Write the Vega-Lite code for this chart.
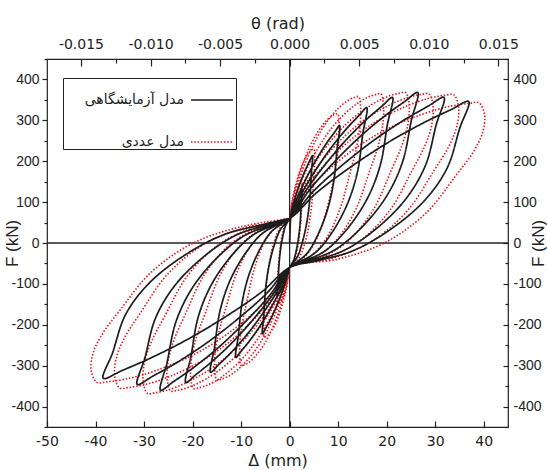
{
"$schema": "https://vega.github.io/schema/vega-lite/v6.json",
"width": 461, "height": 368,
"autosize": {"type": "none"},
"padding": {"left": 47, "top": 59, "right": 39, "bottom": 43},
"config": {
 "view": {"stroke": "#222", "strokeWidth": 1.2},
 "font": "Liberation Sans",
 "axis": {"labelFont": "Liberation Sans", "labelFontSize": 14, "labelColor": "#222", "tickColor": "#222", "tickWidth": 1.2, "domain": false, "grid": false, "titleFont": "Liberation Sans", "titleFontSize": 17, "titleFontWeight": "normal", "titleColor": "#222", "labelFlush": false, "labelOverlap": false}
},
"datasets": {
"blk": [
{"s":"a","x":0,"y":0},
{"s":"a","x":0.375,"y":75.4},{"s":"a","x":0.875,"y":91.5},{"s":"a","x":1.375,"y":105.5},{"s":"a","x":1.875,"y":117.4},{"s":"a","x":2.25,"y":125.1},{"s":"a","x":2.5,"y":130},
{"s":"a","x":2.375,"y":99.6},{"s":"a","x":2.2,"y":54},{"s":"a","x":1.875,"y":16},{"s":"a","x":1.375,"y":-18.2},{"s":"a","x":0.875,"y":-41},{"s":"a","x":0.375,"y":-52.4},{"s":"a","x":0,"y":-60},
{"s":"a","x":-0.375,"y":-75.4},{"s":"a","x":-0.875,"y":-91.5},{"s":"a","x":-1.375,"y":-105.5},{"s":"a","x":-1.875,"y":-117.4},{"s":"a","x":-2.25,"y":-125.1},{"s":"a","x":-2.5,"y":-130},
{"s":"a","x":-2.375,"y":-99.6},{"s":"a","x":-2.2,"y":-54},{"s":"a","x":-1.875,"y":-16},{"s":"a","x":-1.375,"y":18.2},{"s":"a","x":-0.875,"y":41},{"s":"a","x":-0.375,"y":52.4},{"s":"a","x":0,"y":60},
{"s":"a","x":0.7,"y":93.9},{"s":"a","x":1.65,"y":129.3},{"s":"a","x":2.59,"y":160.1},{"s":"a","x":3.53,"y":186.3},{"s":"a","x":4.23,"y":203.2},{"s":"a","x":4.7,"y":214},
{"s":"a","x":4.47,"y":170.2},{"s":"a","x":4.14,"y":104.4},{"s":"a","x":3.53,"y":49.6},{"s":"a","x":2.59,"y":0.3},{"s":"a","x":1.65,"y":-32.6},{"s":"a","x":0.7,"y":-49},{"s":"a","x":0,"y":-60},
{"s":"a","x":-0.84,"y":-95.6},{"s":"a","x":-1.96,"y":-132.9},{"s":"a","x":-3.08,"y":-165.3},{"s":"a","x":-4.2,"y":-192.8},{"s":"a","x":-5.04,"y":-210.7},{"s":"a","x":-5.6,"y":-222},
{"s":"a","x":-5.32,"y":-176.9},{"s":"a","x":-4.93,"y":-109.2},{"s":"a","x":-4.2,"y":-52.8},{"s":"a","x":-3.08,"y":-2},{"s":"a","x":-1.96,"y":31.8},{"s":"a","x":-0.84,"y":48.7},{"s":"a","x":0,"y":60},
{"s":"a","x":1.55,"y":109.9},{"s":"a","x":3.6,"y":162.2},{"s":"a","x":5.67,"y":207.6},{"s":"a","x":7.73,"y":246.1},{"s":"a","x":9.27,"y":271.1},{"s":"a","x":10.3,"y":287},
{"s":"a","x":9.79,"y":231.5},{"s":"a","x":9.06,"y":148.2},{"s":"a","x":7.73,"y":78.8},{"s":"a","x":5.67,"y":16.3},{"s":"a","x":3.6,"y":-25.3},{"s":"a","x":1.55,"y":-46.1},{"s":"a","x":0,"y":-60},
{"s":"a","x":-1.67,"y":-108.4},{"s":"a","x":-3.89,"y":-159},{"s":"a","x":-6.11,"y":-203},{"s":"a","x":-8.33,"y":-240.4},{"s":"a","x":-9.99,"y":-264.6},{"s":"a","x":-11.1,"y":-280},
{"s":"a","x":-10.55,"y":-225.6},{"s":"a","x":-9.77,"y":-144},{"s":"a","x":-8.33,"y":-76},{"s":"a","x":-6.11,"y":-14.8},{"s":"a","x":-3.89,"y":26},{"s":"a","x":-1.67,"y":46.4},{"s":"a","x":0,"y":60},
{"s":"a","x":2.39,"y":119.6},{"s":"a","x":5.57,"y":182},{"s":"a","x":8.75,"y":236.2},{"s":"a","x":11.93,"y":282.2},{"s":"a","x":14.31,"y":312},{"s":"a","x":15.9,"y":331},
{"s":"a","x":15.1,"y":268.4},{"s":"a","x":13.99,"y":174.6},{"s":"a","x":11.93,"y":96.4},{"s":"a","x":8.75,"y":26},{"s":"a","x":5.57,"y":-20.9},{"s":"a","x":2.39,"y":-44.4},{"s":"a","x":0,"y":-60},
{"s":"a","x":-2.45,"y":-116.3},{"s":"a","x":-5.71,"y":-175.2},{"s":"a","x":-8.97,"y":-226.4},{"s":"a","x":-12.23,"y":-269.9},{"s":"a","x":-14.67,"y":-298.1},{"s":"a","x":-16.3,"y":-316},
{"s":"a","x":-15.49,"y":-255.8},{"s":"a","x":-14.34,"y":-165.6},{"s":"a","x":-12.23,"y":-90.4},{"s":"a","x":-8.97,"y":-22.7},{"s":"a","x":-5.71,"y":22.4},{"s":"a","x":-2.45,"y":45},{"s":"a","x":0,"y":60},
{"s":"a","x":3.18,"y":125.1},{"s":"a","x":7.42,"y":193.2},{"s":"a","x":11.66,"y":252.4},{"s":"a","x":15.9,"y":302.7},{"s":"a","x":19.08,"y":335.3},{"s":"a","x":21.2,"y":356},
{"s":"a","x":20.14,"y":289.4},{"s":"a","x":18.66,"y":189.6},{"s":"a","x":15.9,"y":106.4},{"s":"a","x":11.66,"y":31.5},{"s":"a","x":7.42,"y":-18.4},{"s":"a","x":3.18,"y":-43.4},{"s":"a","x":0,"y":-60},
{"s":"a","x":-3.21,"y":-121.8},{"s":"a","x":-7.49,"y":-186.5},{"s":"a","x":-11.77,"y":-242.7},{"s":"a","x":-16.05,"y":-290.4},{"s":"a","x":-19.26,"y":-321.3},{"s":"a","x":-21.4,"y":-341},
{"s":"a","x":-20.33,"y":-276.8},{"s":"a","x":-18.83,"y":-180.6},{"s":"a","x":-16.05,"y":-100.4},{"s":"a","x":-11.77,"y":-28.2},{"s":"a","x":-7.49,"y":19.9},{"s":"a","x":-3.21,"y":44},{"s":"a","x":0,"y":60},
{"s":"a","x":3.96,"y":127.8},{"s":"a","x":9.24,"y":198.6},{"s":"a","x":14.52,"y":260.2},{"s":"a","x":19.8,"y":312.6},{"s":"a","x":23.76,"y":346.4},{"s":"a","x":26.4,"y":368},
{"s":"a","x":25.08,"y":299.5},{"s":"a","x":23.23,"y":196.8},{"s":"a","x":19.8,"y":111.2},{"s":"a","x":14.52,"y":34.2},{"s":"a","x":9.24,"y":-17.2},{"s":"a","x":3.96,"y":-42.9},{"s":"a","x":0,"y":-60},
{"s":"a","x":-3.99,"y":-126},{"s":"a","x":-9.31,"y":-195},{"s":"a","x":-14.63,"y":-255},{"s":"a","x":-19.95,"y":-306},{"s":"a","x":-23.94,"y":-339},{"s":"a","x":-26.6,"y":-360},
{"s":"a","x":-25.27,"y":-292.8},{"s":"a","x":-23.41,"y":-192},{"s":"a","x":-19.95,"y":-108},{"s":"a","x":-14.63,"y":-32.4},{"s":"a","x":-9.31,"y":18},{"s":"a","x":-3.99,"y":43.2},{"s":"a","x":0,"y":60},
{"s":"a","x":4.77,"y":125.1},{"s":"a","x":11.13,"y":193.2},{"s":"a","x":17.49,"y":252.4},{"s":"a","x":23.85,"y":302.7},{"s":"a","x":28.62,"y":335.3},{"s":"a","x":31.8,"y":356},
{"s":"a","x":30.21,"y":289.4},{"s":"a","x":27.98,"y":189.6},{"s":"a","x":23.85,"y":106.4},{"s":"a","x":17.49,"y":31.5},{"s":"a","x":11.13,"y":-18.4},{"s":"a","x":4.77,"y":-43.4},{"s":"a","x":0,"y":-60},
{"s":"a","x":-4.71,"y":-122.9},{"s":"a","x":-10.99,"y":-188.7},{"s":"a","x":-17.27,"y":-245.9},{"s":"a","x":-23.55,"y":-294.5},{"s":"a","x":-28.26,"y":-326},{"s":"a","x":-31.4,"y":-346},
{"s":"a","x":-29.83,"y":-281},{"s":"a","x":-27.63,"y":-183.6},{"s":"a","x":-23.55,"y":-102.4},{"s":"a","x":-17.27,"y":-29.3},{"s":"a","x":-10.99,"y":19.4},{"s":"a","x":-4.71,"y":43.8},{"s":"a","x":0,"y":60},
{"s":"a","x":5.54,"y":122.9},{"s":"a","x":12.92,"y":188.7},{"s":"a","x":20.3,"y":245.9},{"s":"a","x":27.68,"y":294.5},{"s":"a","x":33.21,"y":326},{"s":"a","x":36.9,"y":346},
{"s":"a","x":35.06,"y":281},{"s":"a","x":32.47,"y":183.6},{"s":"a","x":27.68,"y":102.4},{"s":"a","x":20.3,"y":29.3},{"s":"a","x":12.92,"y":-19.4},{"s":"a","x":5.54,"y":-43.8},{"s":"a","x":0,"y":-60},
{"s":"a","x":-5.76,"y":-119.6},{"s":"a","x":-13.44,"y":-182},{"s":"a","x":-21.12,"y":-236.2},{"s":"a","x":-28.8,"y":-282.2},{"s":"a","x":-34.56,"y":-312},{"s":"a","x":-38.4,"y":-331},
{"s":"a","x":-36.48,"y":-268.4},{"s":"a","x":-33.79,"y":-174.6},{"s":"a","x":-28.8,"y":-96.4},{"s":"a","x":-21.12,"y":-26},{"s":"a","x":-13.44,"y":20.9},{"s":"a","x":-5.76,"y":44.4},{"s":"a","x":0,"y":60}
],
"red": [
{"s":"b","x":0,"y":0},
{"s":"b","x":0.25,"y":82.5},{"s":"b","x":0.75,"y":109.5},{"s":"b","x":1.25,"y":128.4},{"s":"b","x":1.75,"y":141},{"s":"b","x":2.13,"y":147.3},{"s":"b","x":2.38,"y":149.6},{"s":"b","x":2.5,"y":150},
{"s":"b","x":2.58,"y":135.3},{"s":"b","x":2.55,"y":112.2},{"s":"b","x":2.43,"y":78.6},{"s":"b","x":2.2,"y":40.8},{"s":"b","x":1.8,"y":-1.2},{"s":"b","x":1.25,"y":-32.7},{"s":"b","x":0.63,"y":-51.6},{"s":"b","x":0,"y":-60},
{"s":"b","x":-0.25,"y":-82.5},{"s":"b","x":-0.75,"y":-109.5},{"s":"b","x":-1.25,"y":-128.4},{"s":"b","x":-1.75,"y":-141},{"s":"b","x":-2.13,"y":-147.3},{"s":"b","x":-2.38,"y":-149.6},{"s":"b","x":-2.5,"y":-150},
{"s":"b","x":-2.58,"y":-135.3},{"s":"b","x":-2.55,"y":-112.2},{"s":"b","x":-2.43,"y":-78.6},{"s":"b","x":-2.2,"y":-40.8},{"s":"b","x":-1.8,"y":1.2},{"s":"b","x":-1.25,"y":32.7},{"s":"b","x":-0.63,"y":51.6},{"s":"b","x":0,"y":60},
{"s":"b","x":0.5,"y":102.5},{"s":"b","x":1.5,"y":153.5},{"s":"b","x":2.5,"y":189.2},{"s":"b","x":3.5,"y":213},{"s":"b","x":4.25,"y":224.9},{"s":"b","x":4.75,"y":229.2},{"s":"b","x":5,"y":230},
{"s":"b","x":5.15,"y":209.7},{"s":"b","x":5.1,"y":177.8},{"s":"b","x":4.85,"y":131.4},{"s":"b","x":4.4,"y":79.2},{"s":"b","x":3.6,"y":21.2},{"s":"b","x":2.5,"y":-22.3},{"s":"b","x":1.25,"y":-48.4},{"s":"b","x":0,"y":-60},
{"s":"b","x":-0.52,"y":-102.5},{"s":"b","x":-1.56,"y":-153.5},{"s":"b","x":-2.6,"y":-189.2},{"s":"b","x":-3.64,"y":-213},{"s":"b","x":-4.42,"y":-224.9},{"s":"b","x":-4.94,"y":-229.2},{"s":"b","x":-5.2,"y":-230},
{"s":"b","x":-5.36,"y":-209.7},{"s":"b","x":-5.3,"y":-177.8},{"s":"b","x":-5.04,"y":-131.4},{"s":"b","x":-4.58,"y":-79.2},{"s":"b","x":-3.74,"y":-21.2},{"s":"b","x":-2.6,"y":22.3},{"s":"b","x":-1.3,"y":48.4},{"s":"b","x":0,"y":60},
{"s":"b","x":0.99,"y":124},{"s":"b","x":2.97,"y":200.8},{"s":"b","x":4.95,"y":254.6},{"s":"b","x":6.93,"y":290.4},{"s":"b","x":8.42,"y":308.3},{"s":"b","x":9.41,"y":314.7},{"s":"b","x":9.9,"y":316},
{"s":"b","x":10.2,"y":289.7},{"s":"b","x":10.1,"y":248.3},{"s":"b","x":9.6,"y":192},{"s":"b","x":8.71,"y":135},{"s":"b","x":7.13,"y":60},{"s":"b","x":4.95,"y":-4},{"s":"b","x":2.48,"y":-41},{"s":"b","x":0,"y":-60},
{"s":"b","x":-1,"y":-120},{"s":"b","x":-3,"y":-192},{"s":"b","x":-5,"y":-242.4},{"s":"b","x":-7,"y":-276},{"s":"b","x":-8.5,"y":-292.8},{"s":"b","x":-9.5,"y":-298.8},{"s":"b","x":-10,"y":-300},
{"s":"b","x":-10.3,"y":-274.8},{"s":"b","x":-10.2,"y":-235.2},{"s":"b","x":-9.7,"y":-192},{"s":"b","x":-8.8,"y":-142},{"s":"b","x":-7.2,"y":-60},{"s":"b","x":-5,"y":6},{"s":"b","x":-2.5,"y":42},{"s":"b","x":0,"y":60},
{"s":"b","x":1.42,"y":134.5},{"s":"b","x":4.26,"y":223.9},{"s":"b","x":7.1,"y":286.5},{"s":"b","x":9.94,"y":328.2},{"s":"b","x":12.07,"y":349.1},{"s":"b","x":13.49,"y":356.5},{"s":"b","x":14.2,"y":358},
{"s":"b","x":14.63,"y":328.7},{"s":"b","x":14.48,"y":282.8},{"s":"b","x":13.77,"y":232},{"s":"b","x":12.5,"y":174},{"s":"b","x":10.22,"y":78},{"s":"b","x":7.1,"y":3},{"s":"b","x":3.55,"y":-39},{"s":"b","x":0,"y":-60},
{"s":"b","x":-1.5,"y":-128.8},{"s":"b","x":-4.5,"y":-211.3},{"s":"b","x":-7.5,"y":-269},{"s":"b","x":-10.5,"y":-307.5},{"s":"b","x":-12.75,"y":-326.8},{"s":"b","x":-14.25,"y":-333.6},{"s":"b","x":-15,"y":-335},
{"s":"b","x":-15.45,"y":-307.4},{"s":"b","x":-15.3,"y":-263.9},{"s":"b","x":-14.55,"y":-216},{"s":"b","x":-13.2,"y":-161},{"s":"b","x":-10.8,"y":-70},{"s":"b","x":-7.5,"y":1},{"s":"b","x":-3.75,"y":40},{"s":"b","x":0,"y":60},
{"s":"b","x":1.88,"y":136.3},{"s":"b","x":5.64,"y":227.8},{"s":"b","x":9.4,"y":291.8},{"s":"b","x":13.16,"y":334.5},{"s":"b","x":15.98,"y":355.9},{"s":"b","x":17.86,"y":363.5},{"s":"b","x":18.8,"y":365},
{"s":"b","x":19.36,"y":335.3},{"s":"b","x":19.18,"y":288.5},{"s":"b","x":18.24,"y":237},{"s":"b","x":16.54,"y":178},{"s":"b","x":13.54,"y":80},{"s":"b","x":9.4,"y":4},{"s":"b","x":4.7,"y":-39},{"s":"b","x":0,"y":-60},
{"s":"b","x":-1.98,"y":-134},{"s":"b","x":-5.94,"y":-222.8},{"s":"b","x":-9.9,"y":-285},{"s":"b","x":-13.86,"y":-326.4},{"s":"b","x":-16.83,"y":-347.1},{"s":"b","x":-18.81,"y":-354.5},{"s":"b","x":-19.8,"y":-356},
{"s":"b","x":-20.39,"y":-326.9},{"s":"b","x":-20.2,"y":-281.1},{"s":"b","x":-19.21,"y":-231},{"s":"b","x":-17.42,"y":-173},{"s":"b","x":-14.26,"y":-77},{"s":"b","x":-9.9,"y":-2},{"s":"b","x":-4.95,"y":39},{"s":"b","x":0,"y":60},
{"s":"b","x":2.39,"y":137},{"s":"b","x":7.17,"y":229.4},{"s":"b","x":11.95,"y":294.1},{"s":"b","x":16.73,"y":337.2},{"s":"b","x":20.32,"y":358.8},{"s":"b","x":22.71,"y":366.5},{"s":"b","x":23.9,"y":368},
{"s":"b","x":24.62,"y":338},{"s":"b","x":24.38,"y":291},{"s":"b","x":23.18,"y":240},{"s":"b","x":21.03,"y":180},{"s":"b","x":17.21,"y":81},{"s":"b","x":11.95,"y":4},{"s":"b","x":5.98,"y":-39},{"s":"b","x":0,"y":-60},
{"s":"b","x":-2.45,"y":-135.5},{"s":"b","x":-7.35,"y":-226.1},{"s":"b","x":-12.25,"y":-289.5},{"s":"b","x":-17.15,"y":-331.8},{"s":"b","x":-20.83,"y":-352.9},{"s":"b","x":-23.28,"y":-360.5},{"s":"b","x":-24.5,"y":-362},
{"s":"b","x":-25.24,"y":-332.5},{"s":"b","x":-24.99,"y":-286},{"s":"b","x":-23.77,"y":-235},{"s":"b","x":-21.56,"y":-176},{"s":"b","x":-17.64,"y":-79},{"s":"b","x":-12.25,"y":-3},{"s":"b","x":-6.13,"y":39},{"s":"b","x":0,"y":60},
{"s":"b","x":2.87,"y":136.3},{"s":"b","x":8.61,"y":227.8},{"s":"b","x":14.35,"y":291.8},{"s":"b","x":20.09,"y":334.5},{"s":"b","x":24.4,"y":355.9},{"s":"b","x":27.27,"y":363.5},{"s":"b","x":28.7,"y":365},
{"s":"b","x":29.56,"y":335.3},{"s":"b","x":29.27,"y":288.5},{"s":"b","x":27.84,"y":237},{"s":"b","x":25.26,"y":178},{"s":"b","x":20.66,"y":80},{"s":"b","x":14.35,"y":4},{"s":"b","x":7.18,"y":-39},{"s":"b","x":0,"y":-60},
{"s":"b","x":-2.93,"y":-137},{"s":"b","x":-8.79,"y":-229.4},{"s":"b","x":-14.65,"y":-294.1},{"s":"b","x":-20.51,"y":-337.2},{"s":"b","x":-24.91,"y":-358.8},{"s":"b","x":-27.84,"y":-366.5},{"s":"b","x":-29.3,"y":-368},
{"s":"b","x":-30.18,"y":-338},{"s":"b","x":-29.89,"y":-291},{"s":"b","x":-28.42,"y":-240},{"s":"b","x":-25.78,"y":-180},{"s":"b","x":-21.1,"y":-81},{"s":"b","x":-14.65,"y":-4},{"s":"b","x":-7.33,"y":39},{"s":"b","x":0,"y":60},
{"s":"b","x":3.38,"y":135.8},{"s":"b","x":10.14,"y":226.7},{"s":"b","x":16.9,"y":290.3},{"s":"b","x":23.66,"y":332.7},{"s":"b","x":28.73,"y":353.9},{"s":"b","x":32.11,"y":361.5},{"s":"b","x":33.8,"y":363},
{"s":"b","x":34.81,"y":333.4},{"s":"b","x":34.48,"y":286.9},{"s":"b","x":32.79,"y":236},{"s":"b","x":29.74,"y":177},{"s":"b","x":24.34,"y":80},{"s":"b","x":16.9,"y":4},{"s":"b","x":8.45,"y":-39},{"s":"b","x":0,"y":-60},
{"s":"b","x":-3.5,"y":-133.8},{"s":"b","x":-10.5,"y":-222.3},{"s":"b","x":-17.5,"y":-284.2},{"s":"b","x":-24.5,"y":-325.5},{"s":"b","x":-29.75,"y":-346.2},{"s":"b","x":-33.25,"y":-353.5},{"s":"b","x":-35,"y":-355},
{"s":"b","x":-36.05,"y":-326},{"s":"b","x":-35.7,"y":-280.3},{"s":"b","x":-33.95,"y":-230},{"s":"b","x":-30.8,"y":-172},{"s":"b","x":-25.2,"y":-77},{"s":"b","x":-17.5,"y":-2},{"s":"b","x":-8.75,"y":39},{"s":"b","x":0,"y":60},
{"s":"b","x":3.9,"y":130.8},{"s":"b","x":11.7,"y":215.7},{"s":"b","x":19.5,"y":275.1},{"s":"b","x":27.3,"y":314.7},{"s":"b","x":33.15,"y":334.5},{"s":"b","x":37.05,"y":341.6},{"s":"b","x":39,"y":343},
{"s":"b","x":40.17,"y":314.8},{"s":"b","x":39.78,"y":270.5},{"s":"b","x":37.83,"y":222},{"s":"b","x":34.32,"y":166},{"s":"b","x":28.08,"y":73},{"s":"b","x":19.5,"y":0},{"s":"b","x":9.75,"y":-40},{"s":"b","x":0,"y":-60},
{"s":"b","x":-3.97,"y":-130.3},{"s":"b","x":-11.91,"y":-214.6},{"s":"b","x":-19.85,"y":-273.6},{"s":"b","x":-27.79,"y":-312.9},{"s":"b","x":-33.75,"y":-332.6},{"s":"b","x":-37.72,"y":-339.6},{"s":"b","x":-39.7,"y":-341},
{"s":"b","x":-40.89,"y":-312.9},{"s":"b","x":-40.49,"y":-268.8},{"s":"b","x":-38.51,"y":-221},{"s":"b","x":-34.94,"y":-164},{"s":"b","x":-28.58,"y":-72},{"s":"b","x":-19.85,"y":0},{"s":"b","x":-9.93,"y":40},{"s":"b","x":0,"y":60}
]
},
"layer": [
 {
  "data": {"values": [{"t": 0}]},
  "mark": {"type": "rule", "color": "#222", "strokeWidth": 1.2},
  "encoding": {
   "x": {"field": "t", "type": "quantitative",
    "scale": {"domain": [-0.01744, 0.015696], "nice": false, "zero": false},
    "axis": {"orient": "top", "title": "θ (rad)", "titleY": -36, "titleBaseline": "middle", "labelFont": "DejaVu Sans", "labelFontSize": 14, "titleFont": "DejaVu Sans", "titleFontSize": 16,
     "values": [-0.015, -0.0125, -0.01, -0.0075, -0.005, -0.0025, 0, 0.0025, 0.005, 0.0075, 0.01, 0.0125, 0.015],
     "labelExpr": "abs(datum.value*200 - round(datum.value*200)) < 0.01 ? replace(format(datum.value, '.3f'), '\u2212', '-') : ''",
     "tickSize": {"condition": {"test": "abs(datum.value*200 - round(datum.value*200)) > 0.01", "value": -4}, "value": -7},
     "labelPadding": 15}
   }
  }
 },
 {
  "data": {"values": [{"f": 0}]},
  "mark": {"type": "rule", "color": "#222", "strokeWidth": 1.2},
  "encoding": {
   "y": {"field": "f", "type": "quantitative",
    "scale": {"domain": [-450, 450], "nice": false, "zero": false},
    "axis": {"orient": "left", "title": "F (kN)", "titleX": -35, "titleY": 184, "titleAngle": 270, "titleBaseline": "middle", "titleAlign": "center",
     "values": [-450, -400, -350, -300, -250, -200, -150, -100, -50, 0, 50, 100, 150, 200, 250, 300, 350, 400, 450],
     "labelExpr": "datum.value % 100 == 0 ? replace(format(datum.value, 'd'), '\u2212', '-') : ''",
     "tickSize": {"condition": {"test": "datum.value % 100 != 0", "value": 3}, "value": 5},
     "labelPadding": 3}
   }
  }
 },
 {
  "data": {"values": [{"f": 0}]},
  "mark": {"type": "rule", "color": "#222", "strokeWidth": 1.2},
  "encoding": {
   "y": {"field": "f", "type": "quantitative",
    "scale": {"domain": [-450, 450], "nice": false, "zero": false},
    "axis": {"orient": "right", "title": "F (kN)", "titleX": 30, "titleY": 184, "titleAngle": 270, "titleBaseline": "middle", "titleAlign": "center",
     "values": [-450, -400, -350, -300, -250, -200, -150, -100, -50, 0, 50, 100, 150, 200, 250, 300, 350, 400, 450],
     "labelExpr": "datum.value % 100 == 0 ? replace(format(datum.value, 'd'), '\u2212', '-') : ''",
     "tickSize": {"condition": {"test": "datum.value % 100 != 0", "value": -3}, "value": -5},
     "labelPadding": 10}
   }
  }
 },
 {
  "layer": [
   {
    "data": {"name": "red"},
    "mark": {"type": "line", "strokeWidth": 1.6, "interpolate": "catmull-rom", "strokeCap": "butt"},
    "encoding": {
     "x": {"field": "x", "type": "quantitative", "scale": {"domain": [-50, 45], "nice": false, "zero": false}},
     "y": {"field": "y", "type": "quantitative", "scale": {"domain": [-450, 450], "nice": false, "zero": false}, "axis": null},
     "order": {"value": null},
     "color": {"field": "s", "type": "nominal", "scale": {"domain": ["a", "b"], "range": ["#1c1c1c", "#e8141c"]},
      "legend": {"orient": "none", "legendX": 16, "legendY": 19, "title": null, "padding": 0, "fillColor": "white", "strokeColor": "#222", "symbolType": "stroke", "symbolSize": 1764, "symbolStrokeWidth": 1.5, "labelAlign": "right", "labelOffset": -50, "symbolOffset": 127, "labelFont": "DejaVu Sans", "labelFontSize": 14, "labelColor": "#222", "rowPadding": 13, "labelLimit": 200,
       "labelExpr": "datum.label == 'a' ? 'مدل آزمایشگاهی' : '\u2002\u2002\u2002مدل عددی'"}},
     "strokeDash": {"field": "s", "type": "nominal", "scale": {"domain": ["a", "b"], "range": [[1, 0], [1.5, 1.8]]},
      "legend": {"orient": "none", "legendX": 16, "legendY": 19, "title": null, "padding": 0, "fillColor": "white", "strokeColor": "#222", "symbolType": "stroke", "symbolSize": 1764, "symbolStrokeWidth": 1.5, "labelAlign": "right", "labelOffset": -50, "symbolOffset": 127, "labelFont": "DejaVu Sans", "labelFontSize": 14, "labelColor": "#222", "rowPadding": 13, "labelLimit": 200,
       "labelExpr": "datum.label == 'a' ? 'مدل آزمایشگاهی' : '\u2002\u2002\u2002مدل عددی'"}}
    }
   },
   {
    "data": {"name": "blk"},
    "mark": {"type": "line", "strokeWidth": 1.7, "interpolate": "catmull-rom"},
    "encoding": {
     "x": {"field": "x", "type": "quantitative", "scale": {"domain": [-50, 45], "nice": false, "zero": false},
      "axis": {"orient": "bottom", "title": "Δ (mm)", "titleY": 33, "titleBaseline": "middle", "labelFont": "DejaVu Sans", "labelFontSize": 14, "titleFont": "DejaVu Sans", "titleFontSize": 16,
       "values": [-50, -45, -40, -35, -30, -25, -20, -15, -10, -5, 0, 5, 10, 15, 20, 25, 30, 35, 40, 45],
       "labelExpr": "datum.value % 10 == 0 ? replace(format(datum.value, 'd'), '\u2212', '-') : ''",
       "tickSize": {"condition": {"test": "datum.value % 10 != 0", "value": -3}, "value": -6},
       "labelPadding": 13}},
     "y": {"field": "y", "type": "quantitative", "scale": {"domain": [-450, 450], "nice": false, "zero": false}, "axis": null},
     "order": {"value": null},
     "color": {"field": "s", "type": "nominal", "scale": {"domain": ["a", "b"], "range": ["#1c1c1c", "#e8141c"]}},
     "strokeDash": {"field": "s", "type": "nominal", "scale": {"domain": ["a", "b"], "range": [[1, 0], [1.5, 1.8]]}}
    }
   }
  ]
 }
],
"resolve": {"scale": {"x": "independent", "y": "independent"}}
}
